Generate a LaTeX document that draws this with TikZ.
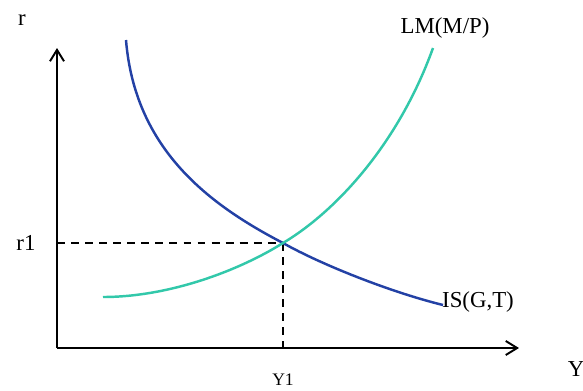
\documentclass[tikz,border=0pt]{standalone}
\usepackage{fontspec}
\setmainfont{Liberation Serif}
\usepackage{tikz}
\usetikzlibrary{
	arrows.meta,
	positioning,
	calc
}
\usepackage{xcolor}
\definecolor{isblue}{RGB}{35,65,165}
\definecolor{lmteal}{RGB}{50,200,170}

\tikzset{
	axis/.style={line width=1.1pt,-{Straight Barb[length=6.5pt,width=8pt]}},
	guide/.style={line width=0.8pt,dash pattern=on 4.5pt off 3.5pt},
	curve/.style={line width=1.4pt},
	lbl/.style={font=\fontsize{13}{15}\selectfont,inner sep=0pt},
	tick/.style={font=\fontsize{10}{12}\selectfont,inner sep=0pt}
}

\begin{document}
\begin{tikzpicture}[x=0.02cm,y=-0.02cm]
		
		\useasboundingbox (0,0) rectangle (583,390);
		
		\coordinate (O) at (57,348);
		\coordinate (ytop) at (57,48);
		\coordinate (xend) at (519,348);
		\coordinate (E) at (283,243);
		
		\draw[axis] (O) -- (ytop);
		\draw[axis] (O) -- (xend);
		
		\draw[guide] (O |- E) -- (E);
		\draw[guide] (E) -- (E |- O);
		
		\draw[curve,isblue]
		(126,40)
		.. controls (135,150) and (210,205)
		.. (E)
		.. controls (320,264) and (390,292)
		.. (443,305);
		
		\draw[curve,lmteal]
		(103,297)
		.. controls (170,297) and (240,270)
		.. (E)
		.. controls (335,212) and (398,145)
		.. (433,48);
		
		\node[lbl] (rlab) at (22,20) {r};
		\node[lbl] (ylab) at (576,369) {Y};
		\node[lbl] (r1) at (26,243) {r1};
		\node[tick] (y1) at (283,380) {Y1};
		\node[lbl] (lm) at (445,28) {LM(M/P)};
		\node[lbl] (is) at (478,302) {IS(G,T)};
		
	\end{tikzpicture}
\end{document}
